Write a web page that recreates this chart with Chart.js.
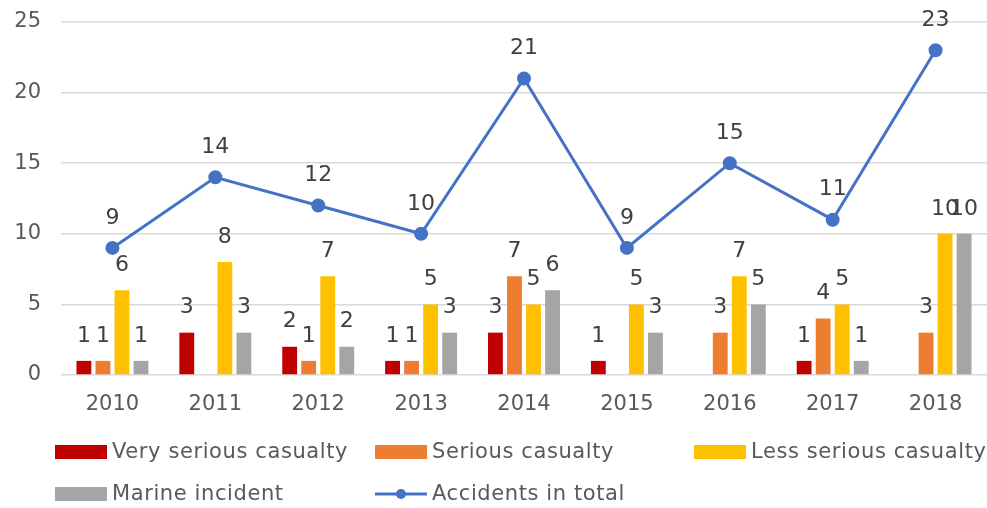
<!DOCTYPE html>
<html>
<head>
<meta charset="utf-8">
<script src="https://cdn.jsdelivr.net/npm/chart.js@4"></script>
<style>
  html, body { margin: 0; padding: 0; background: #fff; }
  #wrap { width: 987px; height: 508px; position: relative; }
</style>
</head>
<body>
<div id="wrap"><canvas id="chart" width="987" height="508"></canvas></div>
<script>
// data
var years = ["2010", "2011", "2012", "2013", "2014", "2015", "2016", "2017", "2018"];
var verySerious = [1, 3, 2, 1, 3, 1, 0, 1, 0];
var serious = [1, 0, 1, 1, 7, 0, 3, 4, 3];
var lessSerious = [6, 8, 7, 5, 5, 5, 7, 5, 10];
var marineIncident = [1, 3, 2, 3, 6, 3, 5, 1, 10];
var totalAccidents = [9, 14, 12, 10, 21, 9, 15, 11, 23];
var yTicks = [0, 5, 10, 15, 20, 25];

const FONT = "'DejaVu Sans', sans-serif";
const TEXT = "#595959";

// 數值標籤
const valueLabels = {
  id: "valueLabels",
  afterDatasetsDraw(chart) {
    const ctx = chart.ctx;
    ctx.save();
    ctx.font = "22px " + FONT;
    ctx.fillStyle = "#404040";
    ctx.textAlign = "center";
    ctx.textBaseline = "middle";
    chart.data.datasets.forEach((ds, i) => {
      const meta = chart.getDatasetMeta(i);
      meta.data.forEach((el, j) => {
        const v = ds.data[j];
        if (!v) return;
        const gap = ds.type == "line" ? 30 : 25;
        ctx.fillText(v, el.x, el.y - gap);
      });
    });
    ctx.restore();
  }
};

// 圖例 (3 columns)
const gridLegend = {
  id: "gridLegend",
  afterDraw(chart) {
    const ctx = chart.ctx;
    const cols = [55, 375, 694];
    const rows = [452, 494];
    ctx.save();
    ctx.font = "21px " + FONT;
    ctx.letterSpacing = "0.6px";
    ctx.textBaseline = "middle";
    ctx.textAlign = "left";
    chart.data.datasets.forEach((ds, i) => {
      const x = cols[i % 3];
      const y = rows[Math.floor(i / 3)];
      if (ds.type == "line") {
        ctx.strokeStyle = ds.borderColor;
        ctx.lineWidth = 3;
        ctx.beginPath();
        ctx.moveTo(x, y);
        ctx.lineTo(x + 52, y);
        ctx.stroke();
        ctx.fillStyle = ds.borderColor;
        ctx.beginPath();
        ctx.arc(x + 26, y, 5, 0, Math.PI * 2);
        ctx.fill();
      } else {
        ctx.fillStyle = ds.backgroundColor;
        ctx.fillRect(x, y - 7, 52, 14);
      }
      ctx.fillStyle = TEXT;
      ctx.fillText(ds.label, x + 57, y + 1);
    });
    ctx.restore();
  }
};

var ctx = document.getElementById("chart");
var chart = new Chart(ctx, {
  data: {
    labels: years,
    datasets: [
      { type: "bar", label: "Very serious casualty", data: verySerious, backgroundColor: "#C00000", order: 1 },
      { type: "bar", label: "Serious casualty", data: serious, backgroundColor: "#ED7D31", order: 1 },
      { type: "bar", label: "Less serious casualty", data: lessSerious, backgroundColor: "#FFC000", order: 1 },
      { type: "bar", label: "Marine incident", data: marineIncident, backgroundColor: "#A5A5A5", order: 1 },
      {
        type: "line", label: "Accidents in total", data: totalAccidents,
        borderColor: "#4472C4", backgroundColor: "#4472C4", borderWidth: 3,
        pointRadius: 5.5, pointHoverRadius: 5.5, tension: 0, order: 0, clip: false
      }
    ]
  },
  options: {
    responsive: false,
    animation: false,
    events: [],
    categoryPercentage: 0.74,
    barPercentage: 0.78,
    layout: { autoPadding: false, padding: { top: 22, right: -2, left: 0, bottom: 0 } },
    plugins: {
      legend: { display: false },
      tooltip: { enabled: false }
    },
    scales: {
      x: {
        grid: { display: false, drawTicks: false },
        border: { display: false },
        ticks: { color: TEXT, font: { family: FONT, size: 21 }, padding: 17 },
        afterFit(scale) {
          scale.height = 133;
          scale.paddingLeft = 0;
          scale.paddingRight = 0;
        }
      },
      y: {
        min: 0,
        max: 25,
        grid: { color: "#D9D9D9", lineWidth: 1.5, drawTicks: false },
        border: { display: false },
        ticks: {
          color: TEXT, font: { family: FONT, size: 21 }, padding: 20,
          stepSize: 5,
          callback: (v) => yTicks.includes(v) ? v : ""
        },
        afterFit(scale) {
          scale.width = 61;
          scale.paddingTop = 0;
          scale.paddingBottom = 0;
        }
      }
    }
  },
  plugins: [valueLabels, gridLegend]
});
</script>
</body>
</html>
